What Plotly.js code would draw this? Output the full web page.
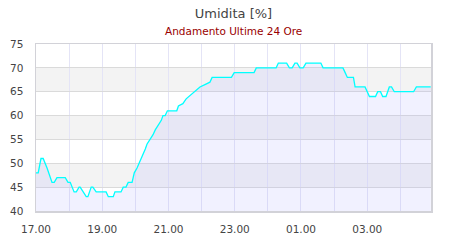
<!DOCTYPE html>
<html>
<head>
<meta charset="utf-8">
<script src="https://cdn.plot.ly/plotly-3.0.1.min.js"></script>
<style>html,body{margin:0;padding:0;background:#fff;}#chart{width:450px;height:240px;}</style>
</head>
<body>
<div id="chart"></div>
<script>
const chartTitle = "Umidita [%]";
const chartSubtitle = "Andamento Ultime 24 Ore";
const times = ["17:00","17:04","17:09","17:13","17:20","17:25","17:29","17:33","17:38","17:53","17:58","18:02","18:09","18:13","18:18","18:20","18:25","18:31","18:34","18:40","18:43","18:49","19:07","19:11","19:20","19:23","19:34","19:38","19:43","19:47","19:54","19:58","20:03","20:07","20:10","20:14","20:18","20:21","20:27","20:32","20:36","20:41","20:47","20:50","20:54","20:58","21:15","21:18","21:26","21:32","21:37","21:46","21:57","22:06","22:15","22:19","22:54","22:59","23:35","23:39","00:15","00:19","00:34","00:39","00:44","00:49","00:53","00:58","01:04","01:09","01:36","01:40","02:16","02:20","02:24","02:35","02:38","02:56","03:00","03:04","03:15","03:19","03:24","03:28","03:34","03:40","03:44","03:49","04:24","04:29","04:55"];
const humidity = [48,48,51,51,49,47.5,46,46,47,47,46,46,44,44,45,45,44,43,43,45,45,44,44,43,43,44,44,45,45,46,46,48,49,50,51,52,53,54,55,56,57,58,59,60,60,61,61,62,62.5,63.5,64,65,66,66.5,67,68,68,69,69,70,70,71,71,70,70,71,71,70,70,71,71,70,70,69,68,68,66,66,65,64,64,65,65,64,64,66,66,65,65,66,66];
const yTicks = [40,45,50,55,60,65,70,75];
const xStart = "17:00";
const xEnd = "04:55:30";

function toDate(t){
  const h = parseInt(t.slice(0,2),10);
  const day = h >= 17 ? "2024-01-01" : "2024-01-02";
  return day + " " + t;
}
const xs = times.map(toDate);

const shapes = [];
for (let i = 1; i < yTicks.length - 1; i += 2) {
  shapes.push({type:'rect', xref:'paper', x0:0, x1:1, yref:'y', y0:yTicks[i], y1:yTicks[i+1],
    fillcolor:'#f3f3f3', line:{width:0}, layer:'below'});
}

const trace = {
  x: xs, y: humidity, type:'scatter', mode:'lines',
  line:{color:'#00ffff', width:1.3, shape:'linear'},
  fill:'tozeroy', fillcolor:'rgba(170,170,255,0.17)',
  hoverinfo:'skip'
};

const layout = {
  width:450, height:240,
  margin:{l:36, r:19, t:44, b:29, pad:0},
  paper_bgcolor:'#ffffff', plot_bgcolor:'#ffffff',
  font:{family:'DejaVu Sans', size:10, color:'#444'},
  showlegend:false,
  title:{text:chartTitle, x:0.5, xanchor:'center', xref:'paper', y:1-13/240, yanchor:'middle', yref:'container',
    font:{family:'DejaVu Sans', size:13, color:'#444'}},
  annotations:[{text:chartSubtitle, xref:'paper', yref:'paper', x:0.5, y:(211-31.5)/167, xanchor:'center', yanchor:'middle',
    showarrow:false, font:{family:'DejaVu Sans', size:10.5, color:'#990000'}}],
  shapes: shapes,
  xaxis:{type:'date', range:[toDate(xStart), toDate(xEnd)], tick0:toDate(xStart), dtick:7200000, tickformat:'%H.%M',
    showgrid:true, gridcolor:'#e4e4f6', gridwidth:1,
    minor:{dtick:3600000, tick0:toDate(xStart), showgrid:true, gridcolor:'#e4e4f6', gridwidth:1},
    showline:true, mirror:true, linecolor:'#d2d2d8', linewidth:1.5, ticks:'', ticklabelstandoff:8,
    tickfont:{family:'DejaVu Sans', size:10.5, color:'#444'}, zeroline:false, fixedrange:true},
  yaxis:{range:[40,75], tickvals:yTicks, showgrid:true, gridcolor:'#dadada', gridwidth:1,
    showline:true, mirror:true, linecolor:'#d2d2d8', linewidth:1.5, ticks:'', ticklabelstandoff:9,
    tickfont:{family:'DejaVu Sans', size:10.5, color:'#444'}, zeroline:false, fixedrange:true}
};

Plotly.newPlot('chart', [trace], layout, {displayModeBar:false, staticPlot:true});
</script>
</body>
</html>
